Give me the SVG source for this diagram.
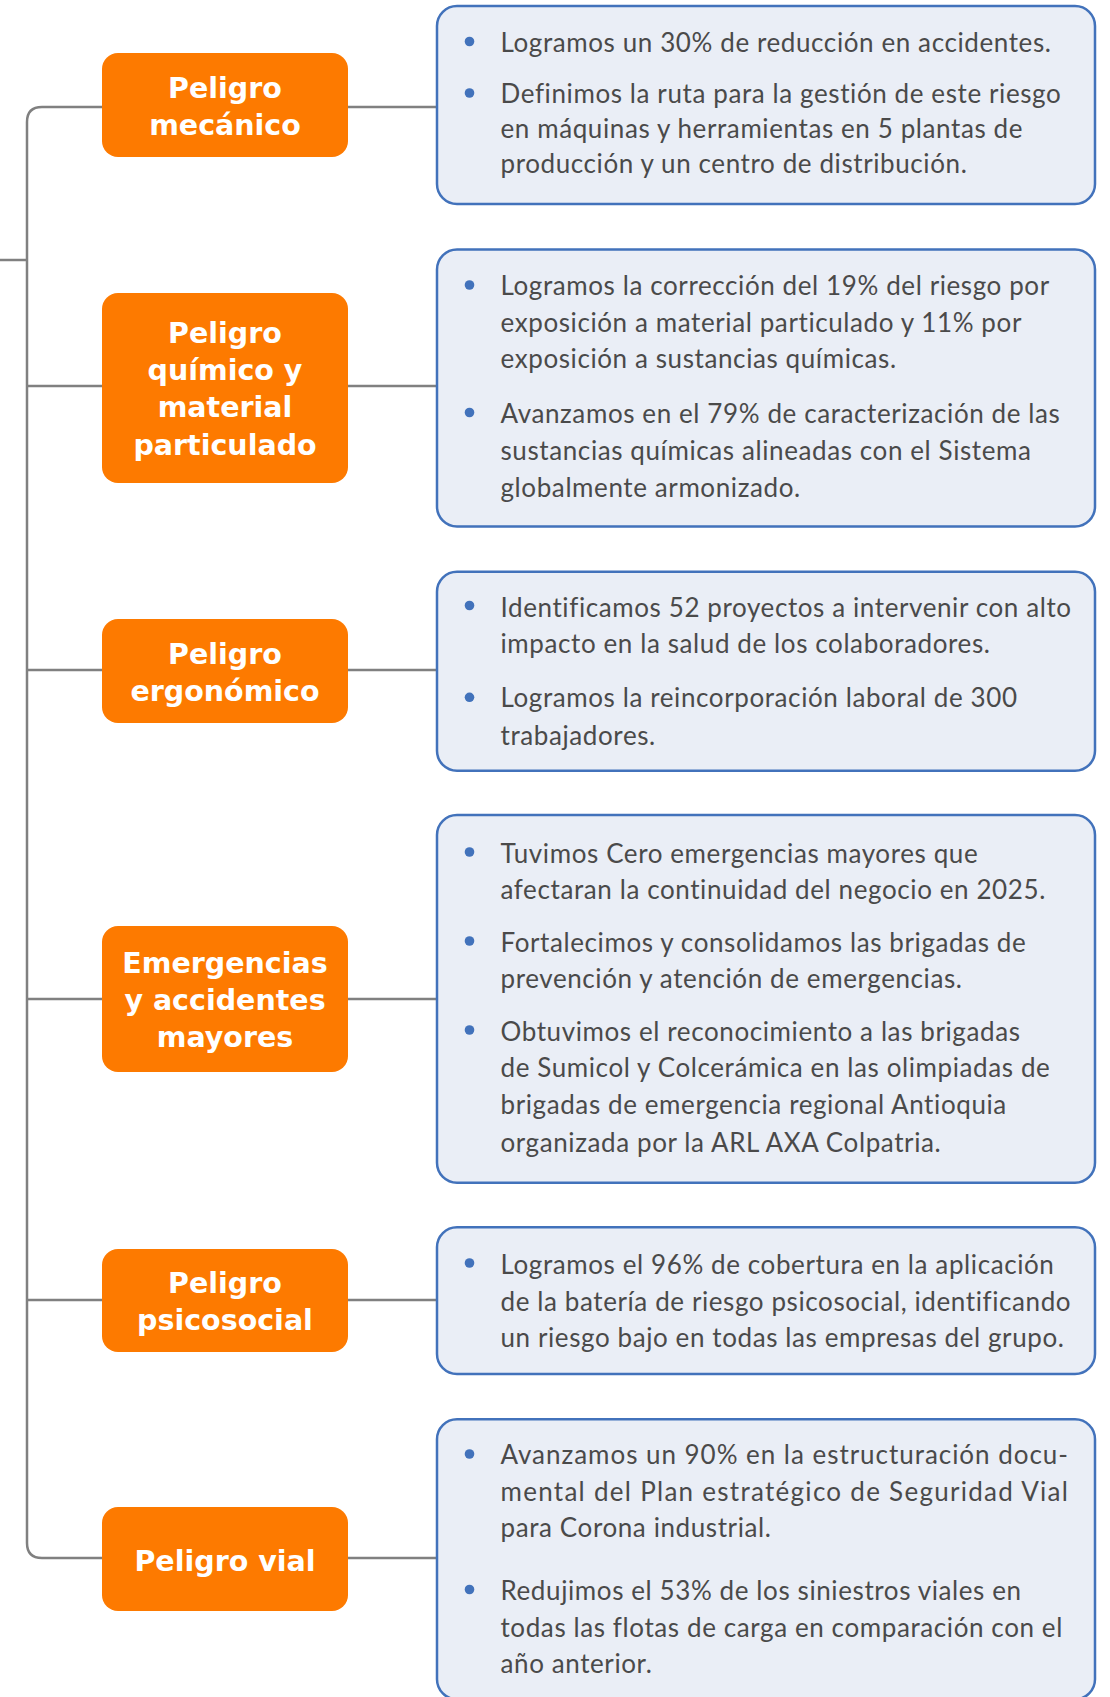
<svg xmlns="http://www.w3.org/2000/svg" width="1110" height="1697" viewBox="0 0 1110 1697">
<style>
.conn{fill:none;stroke:#808080;stroke-width:2.5}
.hz{fill:#fd7a00}
.ht{font-family:"DejaVu Sans",sans-serif;font-weight:bold;font-size:28.5px;fill:#ffffff;text-anchor:middle}
.ib{fill:#eaeef6;stroke:#4272bb;stroke-width:2.5}
.bt{font-family:Lato,"Open Sans",sans-serif;font-size:26px;letter-spacing:0.6px;fill:#4a4a4a}
.dot{fill:#4272bb}
</style>
<rect width="1110" height="1697" fill="#ffffff"/>
<g id="connectors">
<path class="conn" d="M0,260 H27"/>
<path class="conn" d="M102,107 H42 Q27,107 27,122 V1543 Q27,1558 42,1558 H102"/>
<path class="conn" d="M27,386 H102"/>
<path class="conn" d="M27,670 H102"/>
<path class="conn" d="M27,999 H102"/>
<path class="conn" d="M27,1300 H102"/>
<path class="conn" d="M348,107 H437"/>
<path class="conn" d="M348,386 H437"/>
<path class="conn" d="M348,670 H437"/>
<path class="conn" d="M348,999 H437"/>
<path class="conn" d="M348,1300 H437"/>
<path class="conn" d="M348,1558 H437"/>
</g>
<g id="hazard-mecanico">
<rect class="hz" x="102" y="53" width="246" height="104" rx="16"/>
<text class="ht" x="225" y="98">Peligro</text>
<text class="ht" x="225" y="135">mecánico</text>
</g>
<g id="hazard-quimico">
<rect class="hz" x="102" y="293" width="246" height="190" rx="16"/>
<text class="ht" x="225" y="343">Peligro</text>
<text class="ht" x="225" y="380">químico y</text>
<text class="ht" x="225" y="417">material</text>
<text class="ht" x="225" y="455">particulado</text>
</g>
<g id="hazard-ergonomico">
<rect class="hz" x="102" y="619" width="246" height="104" rx="16"/>
<text class="ht" x="225" y="664">Peligro</text>
<text class="ht" x="225" y="701">ergonómico</text>
</g>
<g id="hazard-emergencias">
<rect class="hz" x="102" y="926" width="246" height="146" rx="16"/>
<text class="ht" x="225" y="973">Emergencias</text>
<text class="ht" x="225" y="1010">y accidentes</text>
<text class="ht" x="225" y="1047">mayores</text>
</g>
<g id="hazard-psicosocial">
<rect class="hz" x="102" y="1249" width="246" height="103" rx="16"/>
<text class="ht" x="225" y="1293">Peligro</text>
<text class="ht" x="225" y="1330">psicosocial</text>
</g>
<g id="hazard-vial">
<rect class="hz" x="102" y="1507" width="246" height="104" rx="16"/>
<text class="ht" x="225" y="1571">Peligro vial</text>
</g>
<g id="info-mecanico">
<rect class="ib" x="437" y="6" width="658" height="198" rx="20"/>
<circle class="dot" cx="469.5" cy="41.5" r="4.8"/>
<text class="bt" x="500.5" y="51.7">Logramos un 30% de reducción en accidentes.</text>
<circle class="dot" cx="469.5" cy="93" r="4.8"/>
<text class="bt" x="500.5" y="103.3">Definimos la ruta para la gestión de este riesgo</text>
<text class="bt" x="500.5" y="137.8">en máquinas y herramientas en 5 plantas de</text>
<text class="bt" x="500.5" y="172.7">producción y un centro de distribución.</text>
</g>
<g id="info-quimico">
<rect class="ib" x="437" y="249.5" width="658" height="277" rx="20"/>
<circle class="dot" cx="469.5" cy="285" r="4.8"/>
<text class="bt" x="500.5" y="295">Logramos la corrección del 19% del riesgo por</text>
<text class="bt" x="500.5" y="331.7">exposición a material particulado y 11% por</text>
<text class="bt" x="500.5" y="368.3">exposición a sustancias químicas.</text>
<circle class="dot" cx="469.5" cy="412.5" r="4.8"/>
<text class="bt" x="500.5" y="422.7">Avanzamos en el 79% de caracterización de las</text>
<text class="bt" x="500.5" y="460">sustancias químicas alineadas con el Sistema</text>
<text class="bt" x="500.5" y="496.7">globalmente armonizado.</text>
</g>
<g id="info-ergonomico">
<rect class="ib" x="437" y="571.7" width="658" height="199" rx="20"/>
<circle class="dot" cx="469.5" cy="605.5" r="4.8"/>
<text class="bt" x="500.5" y="616.7">Identificamos 52 proyectos a intervenir con alto</text>
<text class="bt" x="500.5" y="653.3">impacto en la salud de los colaboradores.</text>
<circle class="dot" cx="469.5" cy="697.3" r="4.8"/>
<text class="bt" x="500.5" y="707.3">Logramos la reincorporación laboral de 300</text>
<text class="bt" x="500.5" y="745">trabajadores.</text>
</g>
<g id="info-emergencias">
<rect class="ib" x="437" y="815" width="658" height="367.7" rx="20"/>
<circle class="dot" cx="469.5" cy="852" r="4.8"/>
<text class="bt" x="500.5" y="863.3">Tuvimos Cero emergencias mayores que</text>
<text class="bt" x="500.5" y="899.3">afectaran la continuidad del negocio en 2025.</text>
<circle class="dot" cx="469.5" cy="941" r="4.8"/>
<text class="bt" x="500.5" y="951.7">Fortalecimos y consolidamos las brigadas de</text>
<text class="bt" x="500.5" y="988.3">prevención y atención de emergencias.</text>
<circle class="dot" cx="469.5" cy="1030" r="4.8"/>
<text class="bt" x="500.5" y="1040.7">Obtuvimos el reconocimiento a las brigadas</text>
<text class="bt" x="500.5" y="1076.7">de Sumicol y Colcerámica en las olimpiadas de</text>
<text class="bt" x="500.5" y="1114">brigadas de emergencia regional Antioquia</text>
<text class="bt" x="500.5" y="1151.7">organizada por la ARL AXA Colpatria.</text>
</g>
<g id="info-psicosocial">
<rect class="ib" x="437" y="1227.3" width="658" height="146.7" rx="20"/>
<circle class="dot" cx="469.5" cy="1263" r="4.8"/>
<text class="bt" x="500.5" y="1274">Logramos el 96% de cobertura en la aplicación</text>
<text class="bt" x="500.5" y="1310.7">de la batería de riesgo psicosocial, identificando</text>
<text class="bt" x="500.5" y="1347.3">un riesgo bajo en todas las empresas del grupo.</text>
</g>
<g id="info-vial">
<rect class="ib" x="437" y="1419.3" width="658" height="280" rx="20"/>
<circle class="dot" cx="469.5" cy="1454" r="4.8"/>
<text class="bt" x="500.5" y="1464" textLength="568" lengthAdjust="spacing">Avanzamos un 90% en la estructuración docu-</text>
<text class="bt" x="500.5" y="1500.7" textLength="568" lengthAdjust="spacing">mental del Plan estratégico de Seguridad Vial</text>
<text class="bt" x="500.5" y="1537.3">para Corona industrial.</text>
<circle class="dot" cx="469.5" cy="1589.5" r="4.8"/>
<text class="bt" x="500.5" y="1600">Redujimos el 53% de los siniestros viales en</text>
<text class="bt" x="500.5" y="1636.7">todas las flotas de carga en comparación con el</text>
<text class="bt" x="500.5" y="1673.3">año anterior.</text>
</g>
</svg>
